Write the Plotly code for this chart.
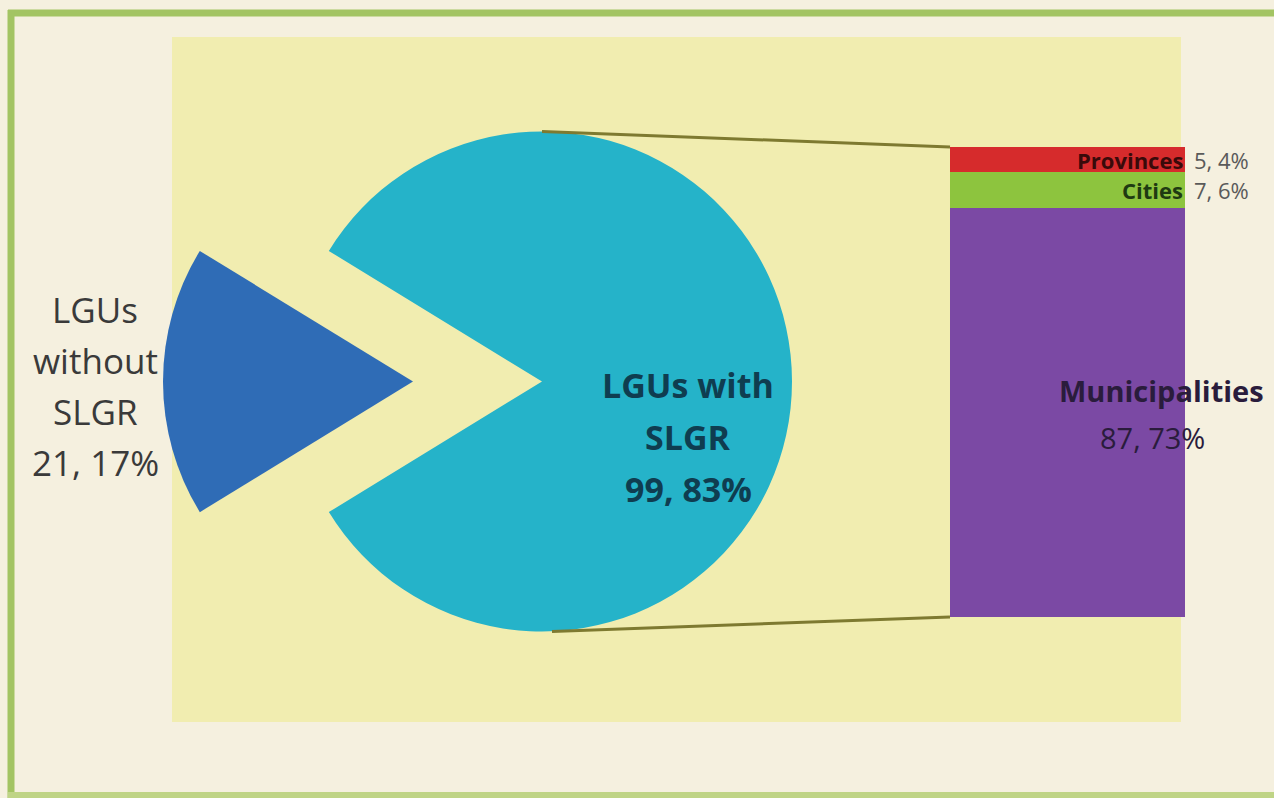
import plotly.graph_objects as go

# ---------------- data ----------------
pie_labels = ["LGUs without SLGR", "LGUs with SLGR"]
pie_values = [21.17, 99.83]
pie_colors = ["#2F6CB6", "#25B3C9"]

bar_categories = ["Municipalities", "Cities", "Provinces"]
bar_values = [87.73, 7.6, 5.4]
bar_value_text = ["87, 73%", "7, 6%", "5, 4%"]
bar_colors = ["#7B49A4", "#8DC43E", "#D62B2C"]

left_label_lines = ["LGUs", "without", "SLGR", "21, 17%"]
center_label_lines = ["LGUs with", "SLGR", "99, 83%"]

# ---------------- layout geometry ----------------
W, H = 1274, 798
PULL = 0.258
pie_dom_x = [163 / W, 792 / W]
pie_dom_y = [1 - 696 / H, 1 - 67 / H]
bar_dom_x = [950 / W, 1185 / W]
bar_dom_y = [1 - 617 / H, 1 - 147 / H]
FONT = "Open Sans, Lato, sans-serif"

fig = go.Figure()

fig.add_trace(go.Pie(
    labels=pie_labels, values=pie_values, sort=False,
    direction="counterclockwise", rotation=-121.5,
    pull=[PULL, PULL],
    marker=dict(colors=pie_colors, line=dict(width=0)),
    textinfo="none", hoverinfo="label+value",
    domain=dict(x=pie_dom_x, y=pie_dom_y), showlegend=False,
))

for cat, val, col in zip(bar_categories, bar_values, bar_colors):
    fig.add_trace(go.Bar(
        x=[0], y=[val], name=cat, width=1,
        marker=dict(color=col, line=dict(width=0)),
        xaxis="x", yaxis="y", showlegend=False,
    ))

total = sum(bar_values)

# ---------------- pie geometry for connectors ----------------
box_w = (pie_dom_x[1] - pie_dom_x[0]) * W
box_h = (pie_dom_y[1] - pie_dom_y[0]) * H
r_px = min(box_w, box_h) / 2 / (1 + PULL)
cx_px = (pie_dom_x[0] + pie_dom_x[1]) / 2 * W
cy_px = (1 - (pie_dom_y[0] + pie_dom_y[1]) / 2) * H
cyan_cx = cx_px + PULL * r_px

conn_color = "#7E7A30"
shapes = [
    dict(type="rect", xref="paper", yref="paper",
         x0=172 / W, x1=1181 / W, y0=1 - 722 / H, y1=1 - 37 / H,
         fillcolor="#F1EDB0", line=dict(width=0), layer="below"),
    dict(type="line", xref="paper", yref="paper", x0=8 / W, x1=1, y0=1 - 13 / H, y1=1 - 13 / H,
         line=dict(color="#A3C463", width=7), layer="below"),
    dict(type="line", xref="paper", yref="paper", x0=11 / W, x1=11 / W, y0=0, y1=1 - 10 / H,
         line=dict(color="#A3C463", width=7), layer="below"),
    dict(type="line", xref="paper", yref="paper", x0=8 / W, x1=1, y0=1 - 795 / H, y1=1 - 795 / H,
         line=dict(color="#BFD486", width=6), layer="below"),
    # connectors from pie to bar
    dict(type="line", xref="paper", yref="paper",
         x0=cyan_cx / W, y0=1 - (cy_px - r_px) / H,
         x1=bar_dom_x[0], y1=bar_dom_y[1],
         line=dict(color=conn_color, width=3)),
    dict(type="line", xref="paper", yref="paper",
         x0=(cyan_cx + 10) / W, y0=1 - (cy_px + r_px) / H,
         x1=bar_dom_x[0], y1=bar_dom_y[0],
         line=dict(color=conn_color, width=3)),
]

annotations = []


def add_line(text, x, y, size, color, bold=False, xanchor="center", yshift=0,
             xref="paper", yref="paper"):
    annotations.append(dict(
        text=f"<b>{text}</b>" if bold else text, x=x, y=y, xref=xref, yref=yref,
        xanchor=xanchor, yanchor="middle", yshift=yshift, showarrow=False,
        font=dict(family=FONT, size=size, color=color)))


def add_lines(lines, x, y, gap, size, color, bold=False):
    n = len(lines)
    for i, t in enumerate(lines):
        add_line(t, x, y, size, color, bold=bold, yshift=((n - 1) / 2 - i) * gap)


add_lines(left_label_lines, 95 / W, 1 - 386 / H, 51, 35, "#3A3A3A")
add_lines(center_label_lines, 688 / W, 1 - 437 / H, 52, 34, "#0F3D50", bold=True)

# bar labels at segment midpoints (data coordinates)
mids = []
acc = 0
for v in bar_values:
    mids.append(acc + v / 2)
    acc += v

add_line(bar_categories[0], 1161 / W, mids[0], 29, "#2A1C3C", bold=True, yshift=22, yref="y")
add_line(bar_value_text[0], 1152 / W, mids[0], 29, "#2A1C3C", yshift=-25, yref="y")

name_colors = ["#1F3A12", "#3A0A0A"]
for k in (1, 2):
    add_line(bar_categories[k], 1185 / W, mids[k], 22, name_colors[k - 1], bold=True,
             xanchor="right", yref="y")
    add_line(bar_value_text[k], 1192 / W, mids[k], 22, "#5A5A5A", xanchor="left", yref="y")

fig.update_layout(
    width=W, height=H, margin=dict(l=0, r=0, t=0, b=0),
    paper_bgcolor="#F5F0DF", plot_bgcolor="rgba(0,0,0,0)",
    barmode="stack", bargap=0,
    xaxis=dict(domain=bar_dom_x, range=[-0.5, 0.5], visible=False, fixedrange=True),
    yaxis=dict(domain=bar_dom_y, range=[0, total], visible=False, fixedrange=True),
    shapes=shapes, annotations=annotations,
)

fig.write_html(
    "out.html",
    config={"displayModeBar": False},
    post_script="document.body.style.margin='0';document.body.style.padding='0';"
                "document.body.style.overflow='hidden';",
)
